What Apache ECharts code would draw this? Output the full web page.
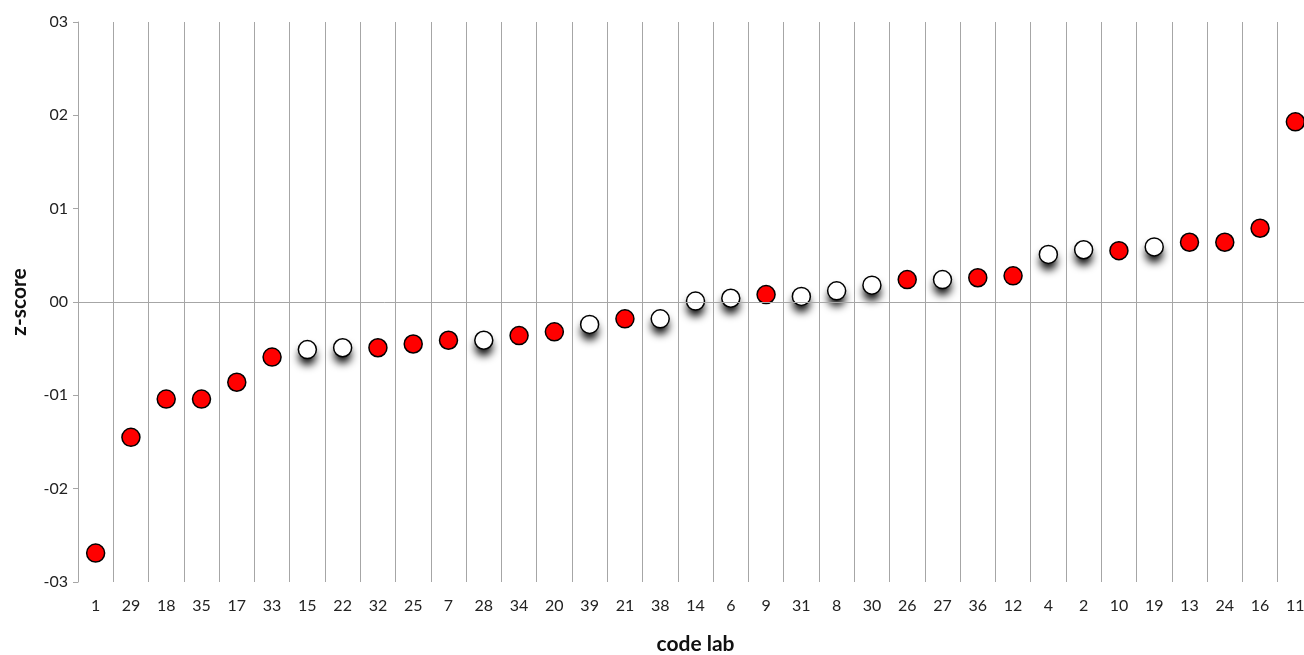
<!DOCTYPE html>
<html>
<head>
<meta charset="utf-8">
<script src="https://cdn.jsdelivr.net/npm/echarts@6/dist/echarts.min.js"></script>
<style>
html,body{margin:0;padding:0;background:#fff;}
#chart{width:1304px;height:655px;}
</style>
</head>
<body>
<div id="chart"></div>
<script>
const categories = ['1','29','18','35','17','33','15','22','32','25','7','28','34','20','39','21','38','14','6','9','31','8','30','26','27','36','12','4','2','10','19','13','24','16','11'];
const zScores = [-2.69,-1.45,-1.04,-1.04,-0.86,-0.59,-0.51,-0.49,-0.49,-0.45,-0.41,-0.41,-0.36,-0.32,-0.24,-0.18,-0.18,0.01,0.04,0.08,0.06,0.12,0.18,0.24,0.24,0.26,0.28,0.51,0.56,0.55,0.59,0.64,0.64,0.79,1.93];
// 'r' = red marker, 'w' = white marker with shadow
const markerKind = ['r','r','r','r','r','r','w','w','r','r','r','w','r','r','w','r','w','w','w','r','w','w','w','r','w','r','r','w','w','r','w','r','r','r','r'];
const yTicks = [-3,-2,-1,0,1,2,3];

const redData = zScores.map((v,i)=> markerKind[i]==='r' ? [i,v] : null).filter(d=>d);
const whiteData = zScores.map((v,i)=> markerKind[i]==='w' ? [i,v] : null).filter(d=>d);

function fmtY(v){
  const a = Math.abs(Math.round(v));
  const s = (a<10?'0':'')+a;
  return (v<0?'-':'')+s;
}

const chart = echarts.init(document.getElementById('chart'));
const FONT = 'Lato';
chart.setOption({
  animation:false,
  backgroundColor:'#fff',
  textStyle:{fontFamily:FONT},
  grid:{left:78,right:-9,top:22,bottom:73,containLabel:false,outerBoundsMode:'none'},
  xAxis:{
    type:'category',
    data:categories,
    boundaryGap:true,
    name:'code lab',
    nameLocation:'middle',
    nameGap:52,
    nameTextStyle:{fontFamily:FONT,fontSize:21,fontWeight:'bold',color:'#111'},
    axisLine:{show:false},
    axisTick:{show:false},
    axisLabel:{fontFamily:FONT,fontSize:16,color:'#222',margin:16,interval:0},
    splitLine:{show:true,interval:0,lineStyle:{color:'#a6a6a6',width:1}}
  },
  yAxis:{
    type:'value',
    min:yTicks[0],max:yTicks[yTicks.length-1],interval:1,
    name:'z-score',
    nameLocation:'middle',
    nameGap:48,
    nameRotate:90,
    nameTextStyle:{fontFamily:FONT,fontSize:21,fontWeight:'bold',color:'#111'},
    axisLine:{show:true,lineStyle:{color:'#a6a6a6',width:1}},
    axisTick:{show:true,length:5,lineStyle:{color:'#a6a6a6'}},
    axisLabel:{fontFamily:FONT,fontSize:16,color:'#222',margin:10,formatter:fmtY},
    splitLine:{show:false}
  },
  series:[
    {
      // shadow layer under white markers
      type:'scatter',
      data:whiteData,
      symbol:'circle',
      symbolSize:17,
      silent:true,
      itemStyle:{color:'#ffffff',opacity:1,borderWidth:0,
        shadowColor:'rgba(0,0,0,1)',shadowBlur:9,shadowOffsetY:7},
      markLine:{
        silent:true,symbol:'none',label:{show:false},
        lineStyle:{color:'#a6a6a6',width:1,type:'solid'},
        data:[{yAxis:0}]
      },
      z:2
    },
    {
      type:'scatter',
      data:whiteData,
      symbol:'circle',
      symbolSize:18,
      itemStyle:{color:'#ffffff',opacity:1,borderColor:'#000',borderWidth:1.5},
      z:3
    },
    {
      type:'scatter',
      data:redData,
      symbol:'circle',
      symbolSize:18,
      itemStyle:{color:'#ff0000',opacity:1,borderColor:'#000',borderWidth:1.5},
      z:4
    }
  ]
});
</script>
</body>
</html>
